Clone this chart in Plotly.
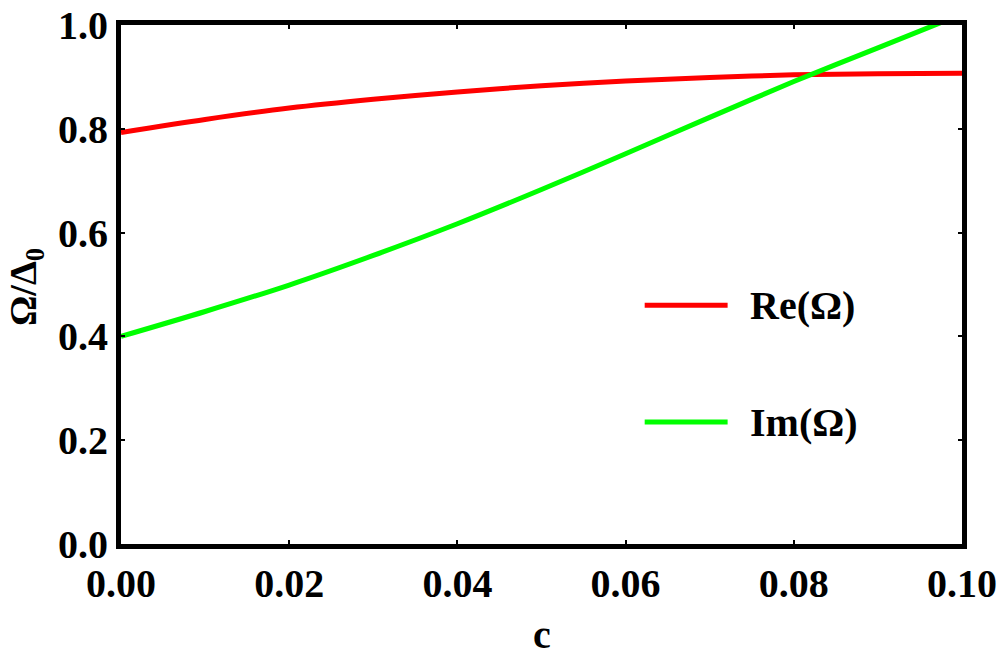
import plotly.graph_objects as go

c_vals = [0.00, 0.01, 0.02, 0.03, 0.04, 0.05, 0.06, 0.07, 0.08, 0.09, 0.10]
re_vals = [0.793, 0.818, 0.840, 0.857, 0.871, 0.883, 0.892, 0.899, 0.904, 0.906, 0.907]
im_vals = [0.400, 0.448, 0.499, 0.556, 0.617, 0.683, 0.752, 0.822, 0.891, 0.956, 1.021]
x_ticks = [0.00, 0.02, 0.04, 0.06, 0.08, 0.10]
x_tick_text = ["0.00", "0.02", "0.04", "0.06", "0.08", "0.10"]
y_ticks = [0.0, 0.2, 0.4, 0.6, 0.8, 1.0]
y_tick_text = ["0.0", "0.2", "0.4", "0.6", "0.8", "1.0"]
series_names = ["Re(Ω)", "Im(Ω)"]
series_colors = ["#FF0000", "#00FF00"]

FONT = "'Liberation Serif', 'Times New Roman', Times, serif"

fig = go.Figure()
for name, vals, col in zip(series_names, [re_vals, im_vals], series_colors):
    fig.add_trace(go.Scatter(x=c_vals, y=vals, mode="lines", name=name,
                             line=dict(color=col, width=5, shape="spline", smoothing=0.8),
                             showlegend=False))

axis_common = dict(showline=True, linecolor="black", linewidth=5, mirror="ticks",
                   ticks="inside", ticklen=4, tickwidth=2, tickcolor="black",
                   showgrid=False, zeroline=False, automargin=False,
                   tickfont=dict(family=FONT, size=40, color="black"))

fig.update_xaxes(range=[0, 0.1], tickvals=x_ticks, ticktext=["<b>%s</b>" % t for t in x_tick_text],
                 **axis_common)
fig.update_yaxes(range=[0, 1.0], tickvals=y_ticks, ticktext=["<b>%s</b>" % t for t in y_tick_text],
                 **axis_common)

# legend drawn as shapes + text
leg_y = [0.46, 0.235]
for name, col, ly in zip(series_names, series_colors, leg_y):
    fig.add_shape(type="line", xref="paper", yref="paper", x0=0.6227, x1=0.7213, y0=ly, y1=ly,
                  line=dict(color=col, width=5))
    fig.add_annotation(xref="paper", yref="paper", x=0.745, y=ly, text="<b>%s</b>" % name,
                       showarrow=False, xanchor="left", yanchor="middle",
                       font=dict(family=FONT, size=40, color="black"))

fig.add_annotation(xref="paper", yref="paper", x=0.5, y=-0.175, text="<b>c</b>",
                   showarrow=False, xanchor="center", yanchor="middle",
                   font=dict(family=FONT, size=40, color="black"))
fig.add_annotation(xref="paper", yref="paper", x=-0.113, y=0.495, text="<b>Ω/Δ<sub>0</sub></b>",
                   showarrow=False, xanchor="center", yanchor="middle", textangle=-90,
                   font=dict(family=FONT, size=38, color="black"))

fig.update_layout(width=1000, height=661, margin=dict(l=121, r=37.5, t=24.5, b=116.5, autoexpand=False),
                  paper_bgcolor="white", plot_bgcolor="white")

fig.write_html("out.html")
